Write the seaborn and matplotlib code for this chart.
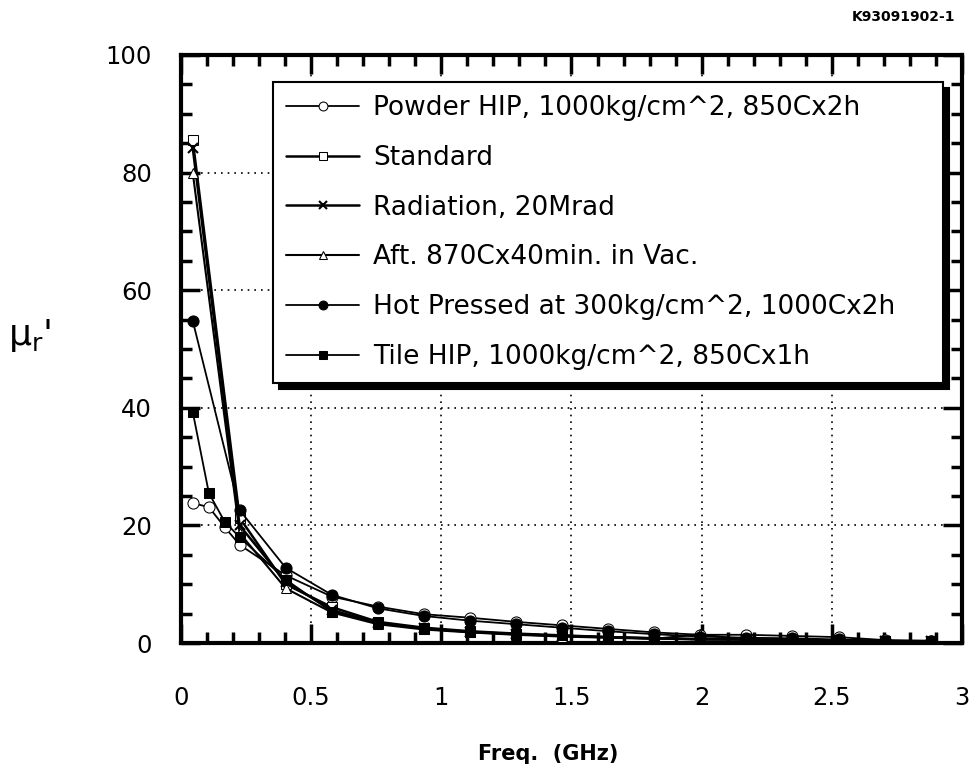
import numpy as np
import pandas as pd
import matplotlib
matplotlib.use('Agg')
import matplotlib.pyplot as plt
import seaborn as sns
from matplotlib.ticker import MultipleLocator, FixedLocator

# frequency points (GHz)
freq_main = [0.045, 0.225, 0.402, 0.579, 0.756, 0.933, 1.11, 1.287, 1.464,
             1.641, 1.818, 1.995, 2.172, 2.349, 2.526, 2.703, 2.88]
freq_fine = [0.045, 0.107, 0.168, 0.225, 0.402, 0.579, 0.756, 0.933, 1.11,
             1.287, 1.464, 1.641, 1.818, 1.995, 2.172, 2.349, 2.526, 2.703, 2.88]

# mu_r' for each sample
powder_hip = [23.8, 23.1, 19.7, 16.7, 11.5, 7.9, 6.2, 4.9, 4.3, 3.6, 3.0,
              2.4, 1.8, 1.4, 1.4, 1.2, 1.0, 0.5, 0.4]
standard = [85.5, 21.3, 10.0, 6.1, 3.6, 2.6, 2.0, 1.6, 1.3, 1.0, 0.8,
            0.6, 0.6, 0.5, 0.4, 0.3, 0.2]
radiation = [84.2, 20.0, 10.4, 5.6, 3.4, 2.5, 1.9, 1.5, 1.2, 1.0, 0.8,
             0.7, 0.6, 0.5, 0.4, 0.3, 0.3]
aft_vac = [80.0, 18.7, 9.3, 5.2, 3.2, 2.3, 1.8, 1.4, 1.1, 0.9, 0.7,
           1.5, 0.5, 0.4, 0.3, 0.3, 0.2]
hot_pressed = [54.8, 22.6, 12.8, 8.2, 5.9, 4.6, 3.8, 3.2, 2.6, 2.0, 1.5,
               1.1, 0.9, 0.8, 0.6, 0.4, 0.3]
tile_hip = [39.3, 25.5, 20.6, 18.0, 10.8, 5.3, 3.4, 2.4, 1.9, 1.5, 1.3,
            1.0, 0.8, 0.6, 0.6, 0.5, 0.4, 0.3, 0.3]

labels = ['Powder HIP, 1000kg/cm^2, 850Cx2h',
          'Standard',
          'Radiation, 20Mrad',
          'Aft. 870Cx40min. in Vac.',
          'Hot Pressed at 300kg/cm^2, 1000Cx2h',
          'Tile HIP, 1000kg/cm^2, 850Cx1h']
x_ticklabels = ['0', '0.5', '1', '1.5', '2', '2.5', '3']
y_ticklabels = ['0', '20', '40', '60', '80', '100']

series = [
    (freq_fine, powder_hip, dict(marker='o', mfc='white', ms=8, lw=1.3)),
    (freq_main, standard, dict(marker='s', mfc='white', ms=6.5, lw=1.8)),
    (freq_main, radiation, dict(marker='x', ms=7, mew=1.5, lw=1.8)),
    (freq_main, aft_vac, dict(marker='^', mfc='white', ms=6.5, lw=1.5)),
    (freq_main, hot_pressed, dict(marker='o', mfc='black', ms=8, lw=1.3)),
    (freq_fine, tile_hip, dict(marker='s', mfc='black', ms=6.5, lw=1.3)),
]

sns.set_theme(style='ticks')
plt.rcParams['font.family'] = ['DejaVu Sans']
plt.rcParams['text.color'] = 'black'
plt.rcParams['axes.labelcolor'] = 'black'
plt.rcParams['xtick.color'] = 'black'
plt.rcParams['ytick.color'] = 'black'

fig = plt.figure(figsize=(9.78, 7.71), dpi=100)
ax = fig.add_axes([0.1851, 0.166, 0.7985, 0.7627])

for (fx, fy, st), lab in zip(series, labels):
    df = pd.DataFrame({'freq': fx, 'mu': fy})
    sns.lineplot(data=df, x='freq', y='mu', color='black', mec='black',
                 label=lab, ax=ax, zorder=3, **st)

ax.set_xlim(0, 3)
ax.set_ylim(0, 100)
ax.xaxis.set_major_locator(FixedLocator([0, 0.5, 1, 1.5, 2, 2.5, 3]))
ax.set_xticklabels(x_ticklabels)
ax.xaxis.set_minor_locator(MultipleLocator(0.1))
ax.yaxis.set_major_locator(FixedLocator([0, 20, 40, 60, 80, 100]))
ax.set_yticklabels(y_ticklabels)
ax.yaxis.set_minor_locator(MultipleLocator(5))

ax.tick_params(which='both', direction='in', top=True, right=True,
               color='black', width=2.5)
ax.tick_params(which='major', length=14)
ax.tick_params(which='minor', length=8)
ax.tick_params(axis='x', which='major', labelsize=17.5, pad=31)
ax.tick_params(axis='y', which='major', labelsize=17.5, pad=21)

for sp in ax.spines.values():
    sp.set_linewidth(3)
    sp.set_color('black')

ax.grid(True, which='major', color='black', linestyle=(0, (1, 3)), lw=1.2)

ax.set_xlabel('Freq.  (GHz)', fontsize=15, fontweight='bold')
ax.xaxis.set_label_coords(0.47, -0.172)
ax.set_ylabel('')

fig.text(0.008, 0.565, r"$\mathregular{\mu_r}$'", fontsize=26,
         ha='left', va='center')
fig.text(0.977, 0.978, 'K93091902-1', fontsize=10, fontweight='bold',
         ha='right', va='center')

leg = ax.legend(loc='upper left', bbox_to_anchor=(0.1178, 0.442, 0.858, 0.512),
                mode='expand', borderaxespad=0, fancybox=False,
                edgecolor='black', framealpha=1, fontsize=19,
                handlelength=2.75, handletextpad=0.55, borderpad=0.5,
                labelspacing=0.9, markerscale=0.8,
                shadow={'ox': 4, 'oy': -4, 'color': 'black', 'alpha': 1})
leg.get_frame().set_linewidth(1.5)
leg.set_zorder(5)

fig.savefig('out.png', dpi=100)
